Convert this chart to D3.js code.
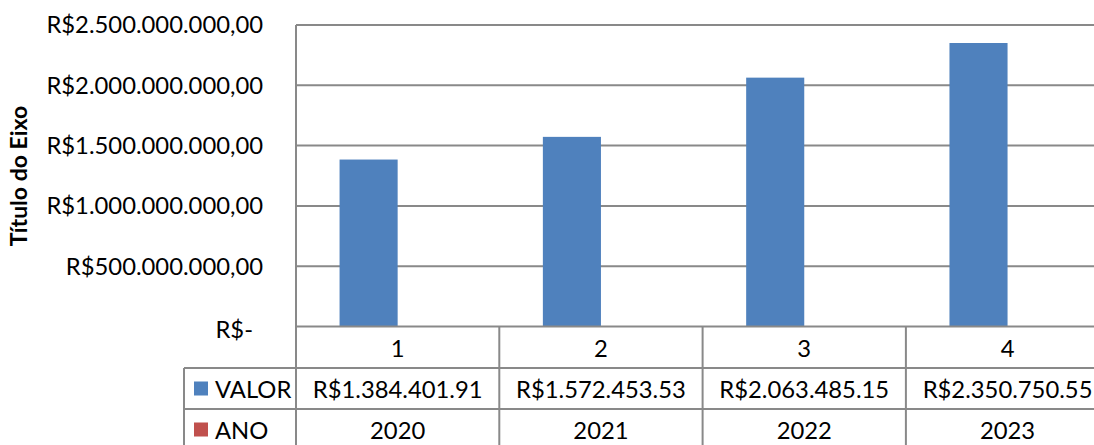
<!DOCTYPE html>
<html><head><meta charset="utf-8">
<script src="https://cdn.jsdelivr.net/npm/d3@7"></script>
<style>html,body{margin:0;padding:0;background:#fff;overflow:hidden}svg{display:block}</style>
</head><body>
<svg id="c" width="1094" height="445"></svg>
<script>
const categories = ["1", "2", "3", "4"];
const seriesNames = ["VALOR", "ANO"];
const valores = [1384401910, 1572453530, 2063485150, 2350750550];
const valorLabels = ["R$1.384.401.91", "R$1.572.453.53", "R$2.063.485.15", "R$2.350.750.55"];
const anos = [2020, 2021, 2022, 2023];
const yTicks = [0, 500000000, 1000000000, 1500000000, 2000000000, 2500000000];
const axisTitle = "Título do Eixo";

(function () {
const svg = d3.select("#c");
const font = "Lato, 'Open Sans', sans-serif";
const fs = 23.8;
const grid = "#898989";
const colors = {VALOR: "#4f81bd", ANO: "#c0504d"};

const pLeft = 296, pTop = 25, base = 326.5, step = 203.3;
const pRight = pLeft + step * categories.length;
const y = d3.scaleLinear().domain([0, 2500000000]).range([base, pTop]);
const x = d3.scaleBand().domain(categories).range([pLeft, pRight]);
const sub = d3.scaleBand().domain(seriesNames).range([0, x.bandwidth()]).paddingInner(0).paddingOuter(0.75);

function fmt(v) {
  if (v === 0) return "R$-";
  return "R$" + d3.format(",.2f")(v).replace(/,/g, "#").replace(".", ",").replace(/#/g, ".");
}

svg.append("g").selectAll("line").data(yTicks.filter(d => d > 0)).join("line")
  .attr("x1", pLeft).attr("x2", pRight)
  .attr("y1", d => y(d)).attr("y2", d => y(d))
  .attr("stroke", grid).attr("stroke-width", 2);

const seriesData = {VALOR: valores, ANO: anos};
seriesNames.forEach(s => {
  svg.append("g").selectAll("rect").data(categories).join("rect")
    .attr("x", c => x(c) + sub(s))
    .attr("width", sub.bandwidth())
    .attr("y", (c, i) => y(seriesData[s][i]))
    .attr("height", (c, i) => y(0) - y(seriesData[s][i]))
    .attr("fill", colors[s]);
});

svg.append("g").selectAll("text").data(yTicks).join("text")
  .attr("x", d => d === 0 ? 253 : 263)
  .attr("y", d => y(d) + (d === 0 ? 3 : 0))
  .attr("dy", "0.35em")
  .attr("text-anchor", "end")
  .attr("font-family", font).attr("font-size", fs).attr("fill", "#000")
  .text(fmt);

svg.append("text")
  .attr("transform", "translate(27,176) rotate(-90)")
  .attr("text-anchor", "middle")
  .attr("font-family", font).attr("font-size", 23).attr("font-weight", "bold")
  .attr("fill", "#000")
  .text(axisTitle);

const rows = [base, 368, 409, 450];
const labelLeft = 184;
const tbl = svg.append("g");
tbl.append("line").attr("x1", pLeft).attr("x2", pRight).attr("y1", rows[0]).attr("y2", rows[0]).attr("stroke", grid).attr("stroke-width", 2);
[rows[1], rows[2]].forEach(r => {
  tbl.append("line").attr("x1", labelLeft).attr("x2", pRight).attr("y1", r).attr("y2", r).attr("stroke", grid).attr("stroke-width", 2);
});
tbl.append("line").attr("x1", pLeft).attr("x2", pLeft).attr("y1", pTop).attr("y2", 445).attr("stroke", grid).attr("stroke-width", 2);
tbl.append("line").attr("x1", labelLeft).attr("x2", labelLeft).attr("y1", rows[1]).attr("y2", 445).attr("stroke", grid).attr("stroke-width", 2);
tbl.selectAll("line.sep").data(categories).join("line").attr("class", "sep")
  .attr("x1", c => x(c) + x.bandwidth()).attr("x2", c => x(c) + x.bandwidth())
  .attr("y1", rows[0]).attr("y2", 445).attr("stroke", grid).attr("stroke-width", 2);

function cellText(texts, row) {
  tbl.append("g").selectAll("text").data(categories).join("text")
    .attr("x", c => x(c) + x.bandwidth() / 2)
    .attr("y", (rows[row] + rows[row + 1]) / 2 + 1)
    .attr("dy", "0.35em")
    .attr("text-anchor", "middle")
    .attr("font-family", font).attr("font-size", fs).attr("fill", "#000")
    .text((c, i) => texts[i]);
}
cellText(categories, 0);
cellText(valorLabels, 1);
cellText(anos.map(String), 2);

seriesNames.forEach((s, i) => {
  const cy = (rows[i + 1] + rows[i + 2]) / 2;
  tbl.append("rect").attr("x", 194).attr("y", cy - 7).attr("width", 14).attr("height", 14).attr("fill", colors[s]);
  tbl.append("text").attr("x", 215).attr("y", cy + 1).attr("dy", "0.35em")
    .attr("font-family", font).attr("font-size", fs).attr("fill", "#000").text(s);
});
})();
</script>
</body></html>
